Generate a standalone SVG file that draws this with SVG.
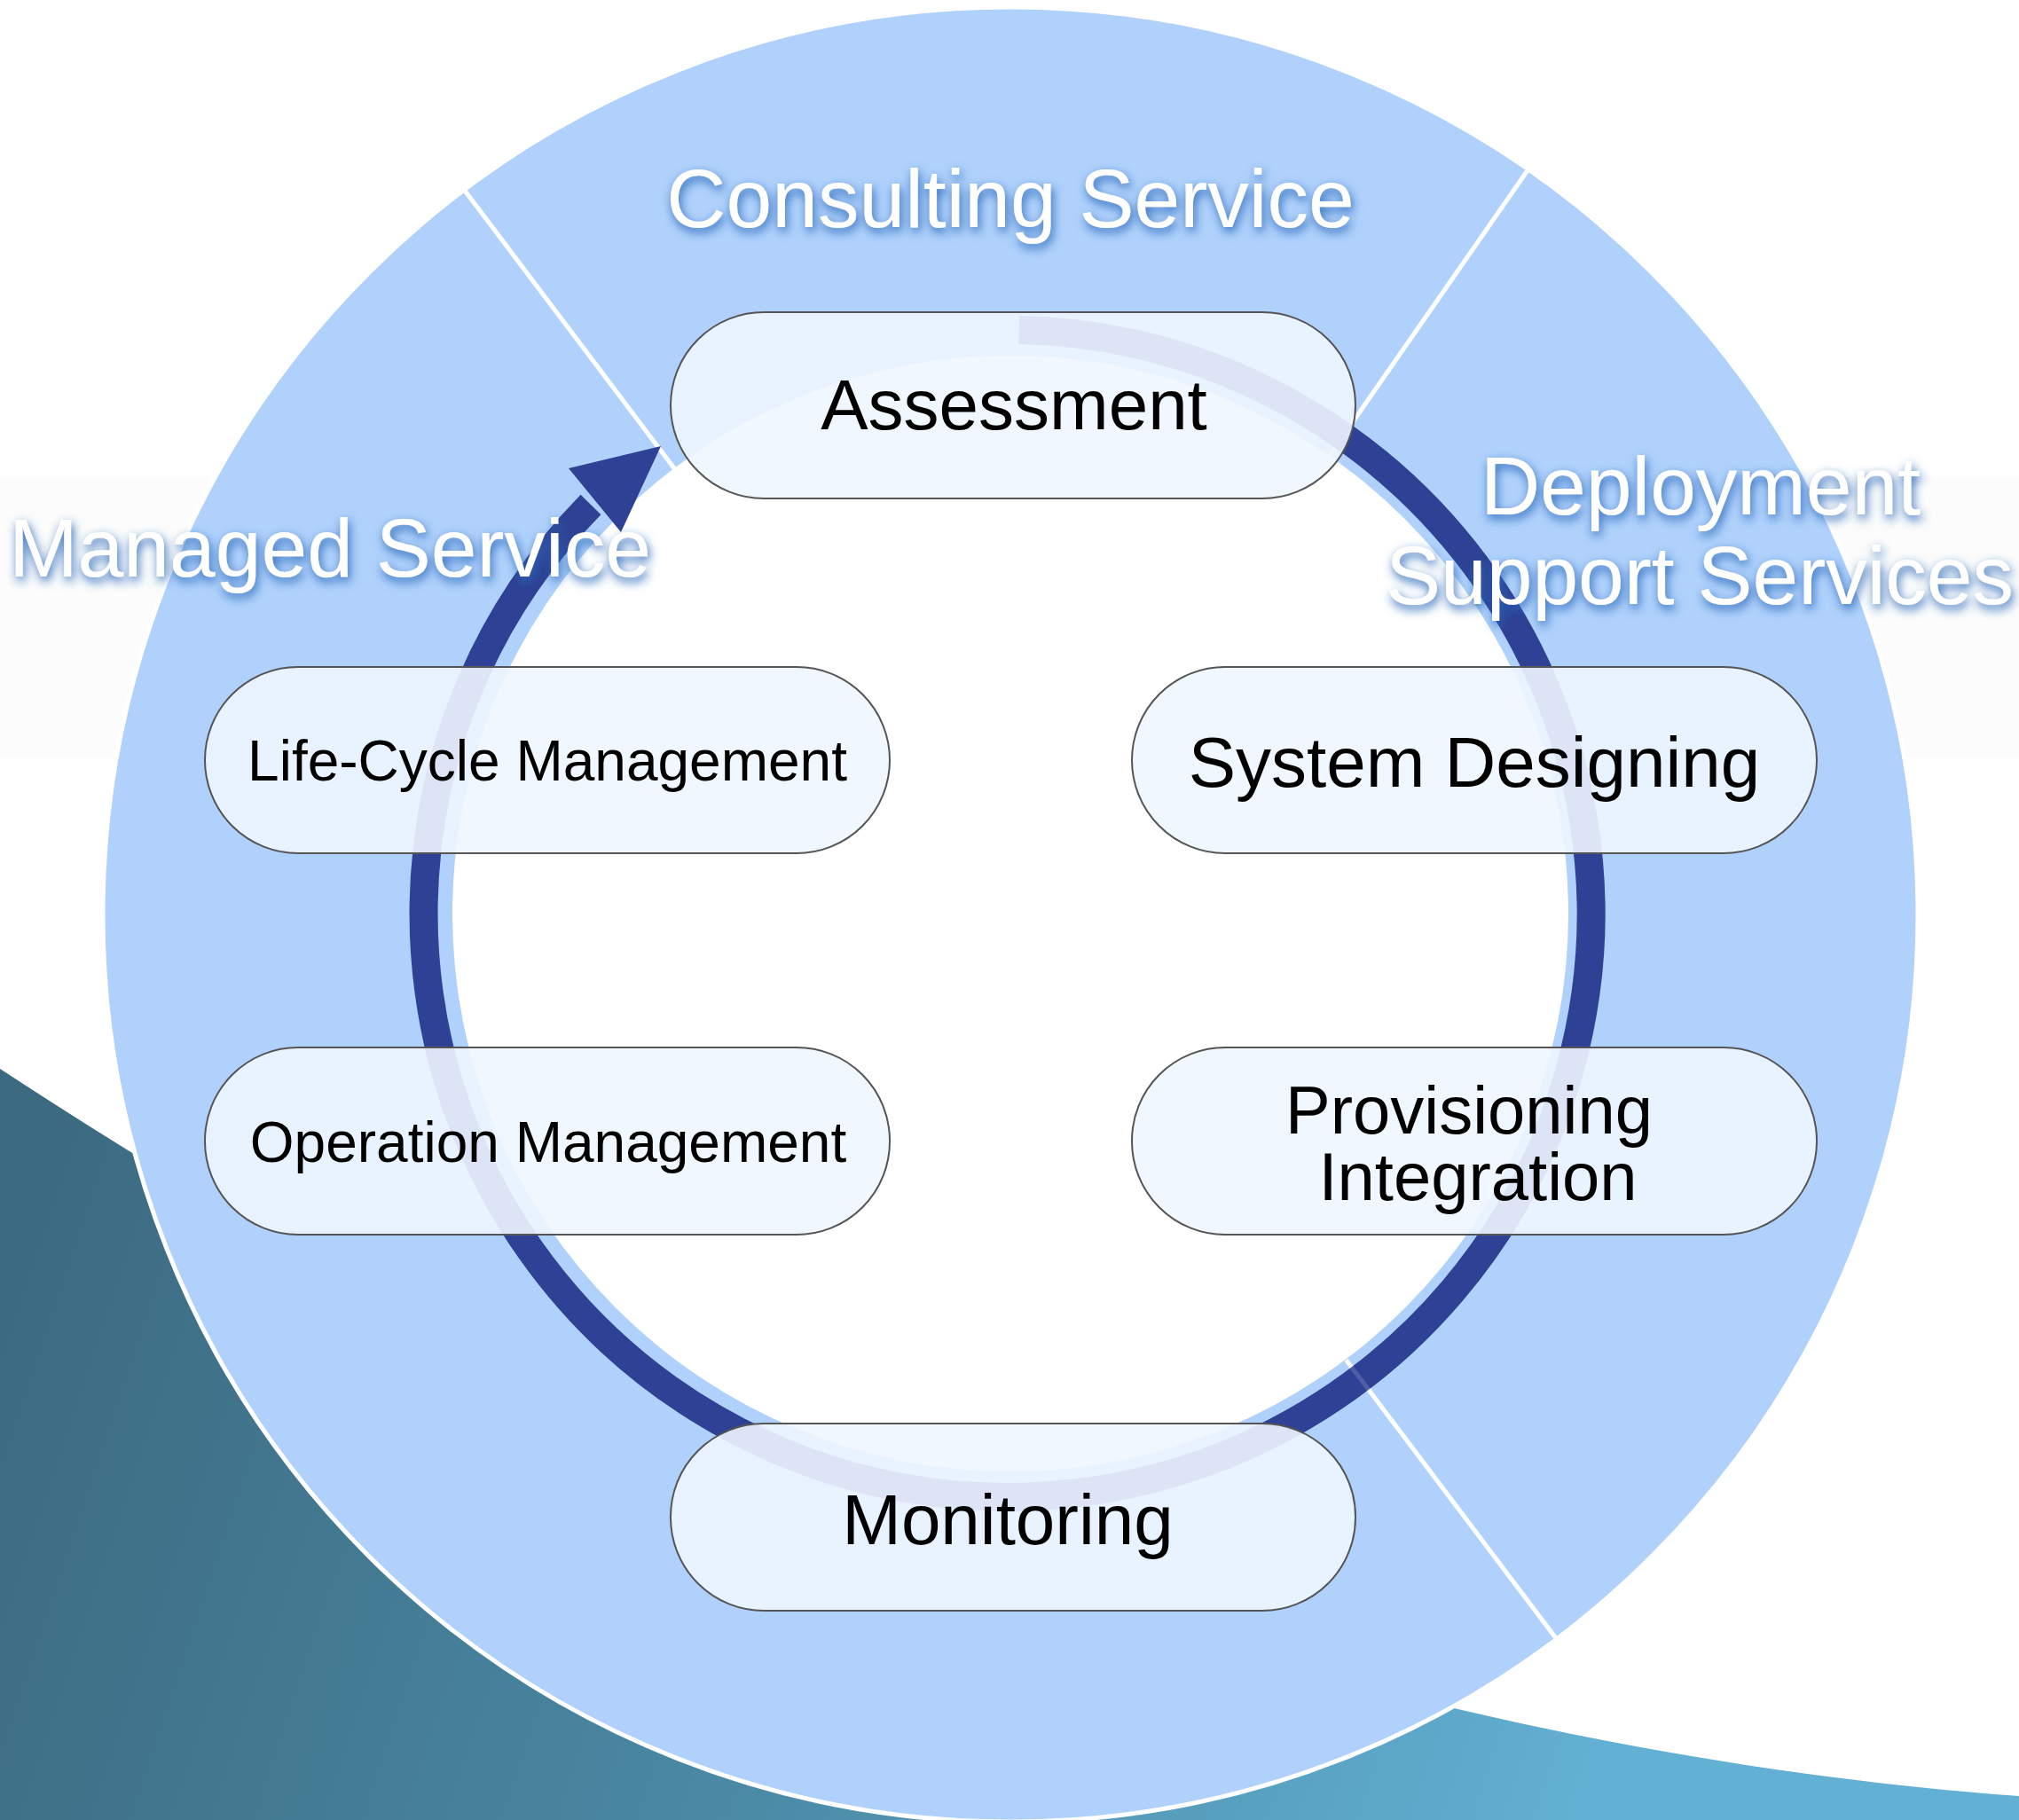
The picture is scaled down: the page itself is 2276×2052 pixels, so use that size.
<svg xmlns="http://www.w3.org/2000/svg" width="2276" height="2052" viewBox="0 0 2276 2052">
  <defs>
    <linearGradient id="teal" gradientUnits="userSpaceOnUse" x1="0" y1="1400" x2="1800" y2="2000">
      <stop offset="0" stop-color="#3c6a80"/>
      <stop offset="0.5" stop-color="#4a88a3"/>
      <stop offset="1" stop-color="#62b0d3"/>
    </linearGradient>
    <filter id="glow" x="-10%" y="-40%" width="120%" height="180%">
      <feGaussianBlur in="SourceAlpha" stdDeviation="6" result="b"/>
      <feOffset in="b" dx="2" dy="5" result="o"/>
      <feFlood flood-color="#2466b8" flood-opacity="1"/>
      <feComposite in2="o" operator="in" result="s"/>
      <feMerge><feMergeNode in="s"/><feMergeNode in="SourceGraphic"/></feMerge>
    </filter>
    <style>
      .node rect { fill: #f0f6ff; fill-opacity: 0.9; stroke: #555; stroke-width: 2; }
      .node text { font-family: "Liberation Sans", Arial, sans-serif; fill: #000; text-anchor: middle; }
      .big { font-size: 80px; }
      .small { font-size: 64px; }
      .section { font-family: "Liberation Sans", Arial, sans-serif; font-size: 93px; fill: #fff; text-anchor: middle; filter: url(#glow); }
      .divider { stroke: #fff; stroke-width: 5; }
    </style>
  </defs>

  <g id="background">
    <rect x="0" y="0" width="2276" height="2052" fill="#fff"/>
    <rect x="0" y="537" width="2276" height="318" fill="#fcfcfc"/>
    <path d="M0 1205 C600 1600 1400 1960 2276 2025 L2276 2052 L0 2052 Z" fill="url(#teal)"/>
  </g>

  <g id="disk">
    <circle cx="1139" cy="1031" r="1023" fill="#b0d1fc" stroke="#fff" stroke-width="5"/>
    <line class="divider" x1="760.5" y1="528.7" x2="519.1" y2="208.4"/>
    <line class="divider" x1="1498" y1="514.5" x2="1726.8" y2="185.3"/>
    <line class="divider" x1="1517.5" y1="1533.3" x2="1758.9" y2="1853.6"/>
    <circle cx="1139" cy="1030" r="629" fill="#fff"/>
  </g>

  <g id="connectors">
    <path d="M1148.6 372.1 A658 658 0 1 1 666 569" fill="none" stroke="#2f4194" stroke-width="32"/>
    <polygon points="745,503 641,528 700,600" fill="#2f4194"/>
    <line x1="1517.5" y1="1533.3" x2="1570" y2="1603" stroke="#fff" stroke-width="5" stroke-opacity="0.15"/>
  </g>

  <g id="assessment" class="node">
    <rect x="756" y="352" width="772" height="210" rx="105" ry="105"/>
    <text class="big" x="1143" y="484">Assessment</text>
  </g>
  <g id="system-designing" class="node">
    <rect x="1276" y="752" width="772" height="210" rx="105" ry="105"/>
    <text class="big" x="1662" y="887">System Designing</text>
  </g>
  <g id="provisioning-integration" class="node">
    <rect x="1276" y="1181" width="772" height="211" rx="105" ry="105"/>
    <text class="big" x="1656" y="1278" style="font-size:76px">Provisioning</text>
    <text class="big" x="1666" y="1353" style="font-size:76px">Integration</text>
  </g>
  <g id="monitoring" class="node">
    <rect x="756" y="1605" width="772" height="211" rx="105" ry="105"/>
    <text class="big" x="1136" y="1741">Monitoring</text>
  </g>
  <g id="operation-management" class="node">
    <rect x="231" y="1181" width="772" height="211" rx="105" ry="105"/>
    <text class="small" x="618" y="1310">Operation Management</text>
  </g>
  <g id="life-cycle-management" class="node">
    <rect x="231" y="752" width="772" height="210" rx="105" ry="105"/>
    <text class="small" x="617" y="880">Life-Cycle Management</text>
  </g>

  <g id="section-labels">
    <text class="section" x="1139" y="256">Consulting Service</text>
    <text class="section" x="372" y="650">Managed Service</text>
    <text class="section" x="1917" y="580">Deployment</text>
    <text class="section" x="1916" y="681">Support Services</text>
  </g>
</svg>
